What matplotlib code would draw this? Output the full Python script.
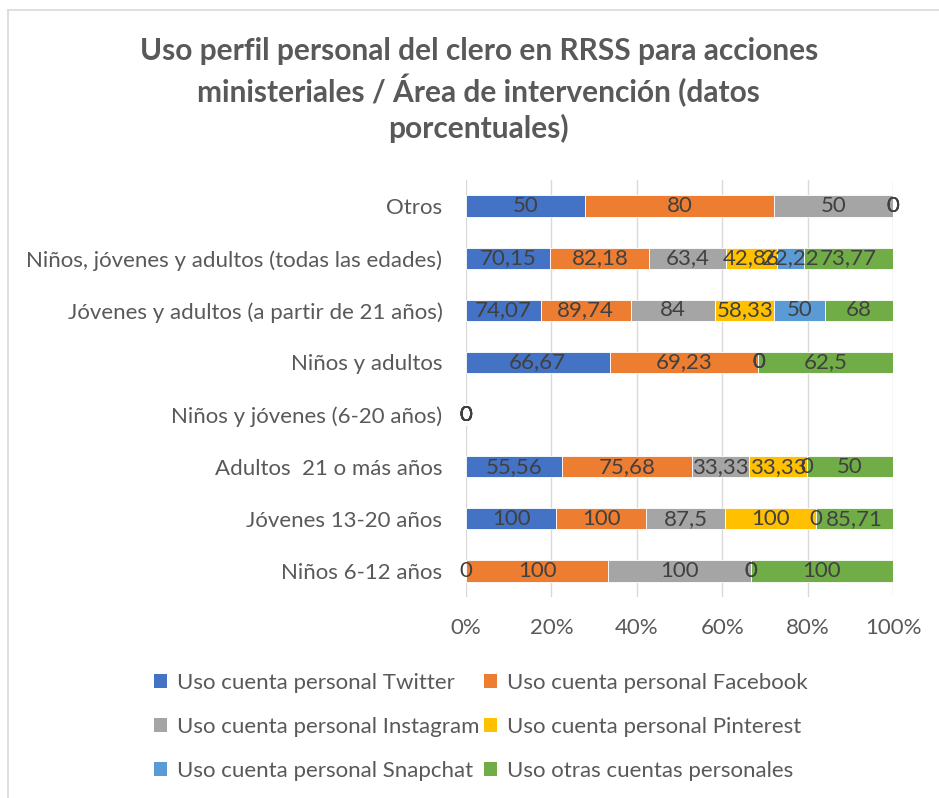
import matplotlib
matplotlib.use("Agg")
import matplotlib.pyplot as plt
import numpy as np
from matplotlib.patches import Patch
from matplotlib.lines import Line2D

plt.rcParams['font.family'] = ['Lato', 'DejaVu Sans']

categories = [
    "Niños 6-12 años",
    "Jóvenes 13-20 años",
    "Adultos  21 o más años",
    "Niños y jóvenes (6-20 años)",
    "Niños y adultos",
    "Jóvenes y adultos (a partir de 21 años)",
    "Niños, jóvenes y adultos (todas las edades)",
    "Otros",
]
series_names = [
    "Uso cuenta personal Twitter",
    "Uso cuenta personal Facebook",
    "Uso cuenta personal Instagram",
    "Uso cuenta personal Pinterest",
    "Uso cuenta personal Snapchat",
    "Uso otras cuentas personales",
]
twitter   = [0, 100, 55.56, 0, 66.67, 74.07, 70.15, 50]
facebook  = [100, 100, 75.68, 0, 69.23, 89.74, 82.18, 80]
instagram = [100, 87.5, 33.33, 0, 0, 84, 63.4, 50]
pinterest = [0, 100, 33.33, 0, 0, 58.33, 42.86, 0]
snapchat  = [0, 0, 0, 0, 0, 50, 22.22, 0]
otras     = [100, 85.71, 50, 0, 62.5, 68, 73.77, 0]
colors = ["#4472C4", "#ED7D31", "#A5A5A5", "#FFC000", "#5B9BD5", "#70AD47"]
xtick_labels = ["0%", "20%", "40%", "60%", "80%", "100%"]

data = np.array([twitter, facebook, instagram, pinterest, snapchat, otras], dtype=float)
totals = data.sum(axis=0)
safe = np.where(totals == 0, 1, totals)
pct = data / safe * 100

fig = plt.figure(figsize=(9.39, 7.98), dpi=100)
ax = fig.add_axes([0.4963, 0.2519, 0.951 - 0.4963, 0.7744 - 0.2519])

FS = 16
y = np.arange(len(categories))
left = np.zeros(len(categories))
txtc = "#404040"
for i in range(len(series_names)):
    ax.barh(y, pct[i], left=left, height=0.41, color=colors[i],
            label=series_names[i], zorder=3, edgecolor="white", linewidth=0.6)
    for j in range(len(categories)):
        v = data[i, j]
        s = ("%g" % v).replace(".", ",")
        ax.text(left[j] + pct[i, j] / 2, y[j], s, ha="center", va="center",
                fontsize=FS, color=txtc, zorder=4)
    left = left + pct[i]

ax.set_xlim(0, 100)
ax.set_ylim(-0.5, len(categories) - 0.5)
ax.set_yticks(y)
ax.set_yticklabels(categories, fontsize=FS, color="#595959")
ax.set_xticks(np.arange(0, 101, 20))
ax.set_xticklabels(xtick_labels, fontsize=FS, color="#595959")
ax.tick_params(axis="both", length=0)
ax.tick_params(axis="y", pad=17)
ax.tick_params(axis="x", pad=15)
for sp in ax.spines.values():
    sp.set_visible(False)
ax.grid(axis="x", color="#D9D9D9", linewidth=1, zorder=0)

fig.text(0.51, 0.887, "Uso perfil personal del clero en RRSS para acciones\n"
         "ministeriales / Área de intervención (datos\nporcentuales)",
         ha="center", va="center", fontsize=21.5, fontweight="bold",
         color="#595959", linespacing=1.3)

handles = [Patch(facecolor=c, edgecolor="none") for c in colors]
order = [0, 2, 4, 1, 3, 5]
leg = fig.legend([handles[k] for k in order], [series_names[k] for k in order],
                 ncol=2, loc="center", bbox_to_anchor=(0.512, 0.089),
                 frameon=False, fontsize=FS, handlelength=0.6, handleheight=0.6,
                 handletextpad=0.45, columnspacing=0.2, labelspacing=1.08,
                 labelcolor="#595959", borderpad=0)

# chart border (left & top visible)
fig.add_artist(Line2D([8/939, 8/939], [0, 1 - 10/798], transform=fig.transFigure,
                      color="#D9D9D9", linewidth=1.2))
fig.add_artist(Line2D([8/939, 1], [1 - 10/798, 1 - 10/798], transform=fig.transFigure,
                      color="#D9D9D9", linewidth=1.2))

fig.savefig("out.png", dpi=100)
